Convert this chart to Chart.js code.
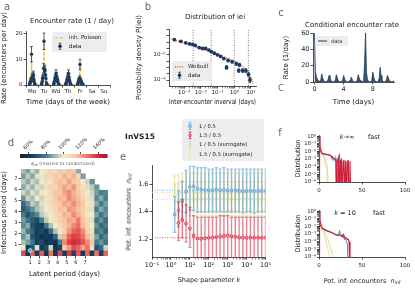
<!DOCTYPE html>
<html>
<head>
<meta charset="utf-8">
<script src="https://cdn.jsdelivr.net/npm/chart.js@4.4.1/dist/chart.umd.min.js"></script>
<style>
html,body{margin:0;padding:0;background:#fff}
body{width:415px;height:295px;position:relative;overflow:hidden;font-family:"DejaVu Sans",sans-serif;color:#222}
canvas{position:absolute}
.t{position:absolute;white-space:nowrap;transform:translate(-50%,-50%);line-height:1}
sub{font-size:70%;vertical-align:-0.3em;line-height:0}
</style>
</head>
<body>
<script>
// ---- a: hourly encounter rate Mo..Fr (7h..18h)
const aDays = ['Mo', 'Tu', 'Wd', 'Th', 'Fr', 'Sa', 'Su'];
const aHours = [7, 8, 9, 10, 11, 12, 13, 14, 15, 16, 17, 18];
const aMo = [0.3, 0.8, 1.5, 2.0, 12.0, 3.0, 2.5, 3.5, 4.0, 2.0, 0.8, 0.2];
const aTu = [0.3, 1.0, 2.5, 3.0, 6.5, 17.0, 5.5, 6.0, 4.0, 2.5, 0.6, 0.2];
const aWd = [0.2, 0.8, 1.5, 2.5, 3.0, 4.5, 3.5, 2.5, 2.0, 1.2, 0.4, 0.1];
const aTh = [0.2, 0.6, 1.2, 2.0, 2.5, 3.5, 4.5, 3.0, 2.0, 1.0, 0.4, 0.1];
const aFr = [0.3, 0.8, 1.5, 2.0, 2.5, 8.0, 2.0, 1.5, 1.0, 0.5, 0.3, 0.1];
const aMoErr = [0.3, 0.6, 0.9, 1.0, 3.0, 1.2, 1.1, 1.3, 1.4, 1.0, 0.6, 0.3];
const aTuErr = [0.3, 0.7, 1.1, 1.2, 1.8, 3.2, 1.6, 1.7, 1.4, 1.1, 0.5, 0.3];
const aWdErr = [0.3, 0.6, 0.9, 1.1, 1.2, 1.4, 1.3, 1.1, 1.0, 0.8, 0.4, 0.2];
const aThErr = [0.3, 0.5, 0.8, 1.0, 1.1, 1.3, 1.4, 1.2, 1.0, 0.7, 0.4, 0.2];
const aFrErr = [0.3, 0.6, 0.9, 1.0, 1.1, 2.0, 1.0, 0.9, 0.7, 0.5, 0.4, 0.2];

// ---- b: inter-encounter interval density (log10 values)
const bLogX = [-3.58, -3.19, -2.9, -2.67, -2.48, -2.33, -2.1, -1.9, -1.71, -1.52, -1.37, -1.19, -1.0, -0.81, -0.62, -0.46, -0.37, -0.13, 0.12, 0.31, 0.27, 0.5, 0.69, 0.85, 0.94];
const bLogY = [-2.6, -2.85, -3.1, -3.25, -3.35, -3.5, -3.85, -4.0, -4.0, -4.25, -4.5, -4.75, -5.0, -5.25, -5.6, -7.0, -5.9, -6.1, -6.4, -6.6, -7.5, -7.5, -7.5, -8.1, -9.0];
const bErr = [0.1, 0.1, 0.1, 0.1, 0.1, 0.1, 0.1, 0.1, 0.1, 0.1, 0.12, 0.12, 0.12, 0.15, 0.15, 0.3, 0.2, 0.2, 0.25, 0.25, 0.3, 0.3, 0.3, 0.35, 0.4];
const bWeibLogX = [-4, -3.5, -3, -2.5, -2, -1.5, -1, -0.5, 0, 0.5, 0.8, 1.0, 1.15];
const bWeibLogY = [-2.25, -2.7, -3.15, -3.6, -4.0, -4.45, -4.95, -5.45, -6.0, -6.8, -7.6, -8.6, -9.6];
const bMarks = [1 / 288, 1 / 24, 1, 7];

// ---- c: conditional encounter rate, every 3 hours from t = 0
const cStep = 0.125;
const cRate = [
  60, 14, 7, 4, 2, 1, 0.8, 3,
  10, 5, 2, 0.8, 0.4, 0.4, 0.8, 3.5,
  8, 6, 2, 0.8, 0.4, 0.3, 0.8, 3,
  9, 5, 2, 0.6, 0.3, 0.3, 0.6, 3,
  8, 4, 1.5, 0.5, 0.3, 0.3, 0.5, 2.5,
  6, 4, 1.5, 0.5, 0.3, 0.3, 0.5, 3,
  9, 5, 2, 0.6, 0.3, 0.4, 2, 24,
  60, 12, 4, 1, 0.4, 0.4, 1, 4,
  12, 6, 2, 0.8, 0.4, 0.3, 1, 5,
  18, 8, 3, 1, 0.4, 0.3, 0.8, 3,
  8, 5, 2, 0.8, 0.4, 0.3, 0.5, 2];

// ---- d: eps_inf (% of randomized), 0.5-day cells, rows from top (7.5-8 d) down
const heatStep = 0.5, heatTop = 8;
const heatGrid = [
  [92, 86, 96, 90, 100, 104, 110, 106, 114, 110, 116, 112, 88, null, null, null, null, null, null],
  [86, 94, 88, 98, 102, 98, 108, 112, 110, 118, 112, 118, 108, 86, null, null, null, null, null],
  [94, 88, 96, 92, 100, 106, 104, 112, 116, 112, 120, 114, 110, 100, 96, 84, null, null, null],
  [88, 96, 90, 98, 96, 104, 110, 108, 116, 120, 116, 122, 112, 104, 98, 94, 84, null, null],
  [96, 90, 98, 94, 102, 100, 108, 114, 112, 120, 124, 118, 114, 106, 100, 96, 86, 80, 82],
  [84, 96, 92, 100, 96, 104, 106, 112, 118, 116, 124, 120, 116, 108, 104, 98, 82, 88, 80],
  [76, 84, 94, 90, 98, 102, 106, 110, 114, 120, 118, 124, 118, 112, 100, 104, 88, 80, 86],
  [72, 78, 84, 92, 96, 100, 104, 108, 116, 114, 122, 120, 116, 110, 106, 98, 80, 88, 82],
  [80, 70, 76, 82, 94, 98, 102, 106, 110, 118, 116, 124, 118, 112, 102, 100, 86, 78, 84],
  [86, 78, 72, 68, 80, 94, 100, 104, 110, 114, 120, 118, 126, 114, 106, 98, 78, 84, 76],
  [82, 88, 70, 66, 62, 78, 92, 100, 106, 112, 118, 124, 128, 116, 108, 100, 84, 76, 80],
  [90, 80, 74, 64, 68, 62, 76, 92, 102, 110, 122, 130, 132, 124, 110, 104, 78, 82, 74],
  [84, 92, 70, 66, 60, 64, 62, 74, 96, 118, 130, 136, 134, 128, 116, 108, 86, 76, 82],
  [92, 86, 78, 64, 68, 60, 64, 60, 80, 124, 136, 140, 138, 132, 124, 112, 80, 84, 78],
  [100, 64, 70, 98, 62, 68, 96, 60, 66, 112, 122, 134, 130, 120, 128, 104, 70, 76, 96],
  [134, 62, 130, 64, 132, 60, 128, 62, 134, 64, 136, 66, 132, 62, 130, 64, 128, 66, 130]];
const heatMarker = {x: 1, y: 0.5};
const cbarTicks = [60, 80, 100, 120, 140];

// ---- e: n_inf vs shape parameter k
const eK = [1.58, 2.51, 3.98, 6.31, 10, 15.8, 25.1, 39.8, 63.1, 100, 158, 251, 398, 631, 1000, 1585, 2512, 3981, 6310, 10000, 15849, 25119, 39811, 63096, 100000];
const eBlue = [1.38, 1.41, 1.475, 1.545, 1.58, 1.585, 1.568, 1.562, 1.558, 1.556, 1.556, 1.56, 1.556, 1.558, 1.555, 1.556, 1.556, 1.552, 1.55, 1.551, 1.552, 1.55, 1.551, 1.552, 1.551];
const eBlueLo = [1.25, 1.29, 1.33, 1.39, 1.41, 1.41, 1.4, 1.4, 1.4, 1.4, 1.4, 1.4, 1.4, 1.4, 1.4, 1.4, 1.4, 1.4, 1.39, 1.4, 1.4, 1.39, 1.4, 1.4, 1.4];
const eBlueHi = [1.51, 1.55, 1.62, 1.7, 1.73, 1.73, 1.72, 1.72, 1.72, 1.71, 1.71, 1.72, 1.71, 1.72, 1.71, 1.71, 1.71, 1.71, 1.71, 1.71, 1.71, 1.71, 1.71, 1.71, 1.71];
const eRed = [null, 1.318, 1.34, 1.314, 1.278, 1.227, 1.205, 1.203, 1.207, 1.21, 1.212, 1.215, 1.22, 1.225, 1.227, 1.222, 1.218, 1.213, 1.212, 1.21, 1.212, 1.21, 1.211, 1.21, 1.21];
const eRedLo = [null, 1.19, 1.21, 1.18, 1.14, 1.02, 1.0, 1.0, 1.0, 1.0, 1.0, 1.0, 1.0, 1.0, 1.0, 1.0, 1.0, 1.0, 1.0, 1.0, 1.0, 1.0, 1.0, 1.0, 1.0];
const eRedHi = [null, 1.47, 1.49, 1.45, 1.43, 1.37, 1.36, 1.36, 1.36, 1.36, 1.36, 1.36, 1.37, 1.37, 1.37, 1.36, 1.36, 1.36, 1.36, 1.36, 1.36, 1.36, 1.36, 1.36, 1.36];
const eSur1 = [1.52, 1.53, 1.54, 1.54, 1.545, 1.54, 1.54, 1.54, 1.538, 1.54, 1.54, 1.542, 1.54, 1.54, 1.538, 1.54, 1.54, 1.54, 1.54, 1.54, 1.54, 1.54, 1.54, 1.54, 1.54];
const eSur1Lo = [1.38, 1.39, 1.4, 1.4, 1.41, 1.4, 1.4, 1.4, 1.4, 1.4, 1.4, 1.4, 1.4, 1.4, 1.4, 1.4, 1.4, 1.4, 1.4, 1.4, 1.4, 1.4, 1.4, 1.4, 1.4];
const eSur1Hi = [1.66, 1.67, 1.68, 1.68, 1.68, 1.68, 1.68, 1.68, 1.68, 1.68, 1.68, 1.68, 1.68, 1.68, 1.68, 1.68, 1.68, 1.68, 1.68, 1.68, 1.68, 1.68, 1.68, 1.68, 1.68];
const eSur2 = [1.47, 1.48, 1.49, 1.49, 1.49, 1.49, 1.49, 1.492, 1.49, 1.49, 1.49, 1.49, 1.49, 1.49, 1.49, 1.49, 1.49, 1.49, 1.49, 1.49, 1.49, 1.49, 1.49, 1.49, 1.49];
const eSur2Lo = [1.35, 1.36, 1.36, 1.37, 1.37, 1.37, 1.37, 1.37, 1.37, 1.37, 1.37, 1.37, 1.37, 1.37, 1.37, 1.37, 1.37, 1.37, 1.37, 1.37, 1.37, 1.37, 1.37, 1.37, 1.37];
const eSur2Hi = [1.6, 1.61, 1.62, 1.62, 1.62, 1.62, 1.62, 1.62, 1.62, 1.62, 1.62, 1.62, 1.62, 1.62, 1.62, 1.62, 1.62, 1.62, 1.62, 1.62, 1.62, 1.62, 1.62, 1.62, 1.62];
const eBlueRef = 1.556, eRedRef = 1.21, eSur1Ref = 1.54, eSur2Ref = 1.49;

// ---- f: distributions of n_inf (index = n_inf), 1e-9 = empty bin
const fTopSur1 = [1, 0.15, 0.04, 0.015, 0.008, 0.004, 0.002, 0.001, 0.0005, 0.0002, 0.00005, 1e-9];
const fTopSur2 = [1, 0.12, 0.03, 0.01, 0.005, 0.002, 0.0008, 0.0003, 0.0001, 0.00002, 1e-9];
const fTopBlue = [1, 0.06, 0.012, 0.006, 0.005, 0.005, 0.005, 0.0045, 0.0045, 0.004, 0.004, 0.004, 0.0035, 0.003, 0.0025, 0.0012, 0.002, 0.001, 0.0007, 0.0015, 1e-9, 0.001, 0.0005, 0.002, 0.003, 1e-9, 0.0006, 1e-9];
const fTopRed = [1, 0.05, 0.012, 0.006, 0.005, 0.005, 0.0045, 0.0045, 0.004, 0.004, 0.0038, 0.0035, 0.0032, 0.003, 0.0025, 0.002, 0.0015, 0.0012, 0.001, 0.001, 0.0008, 1e-9, 0.0007, 0.002, 1e-9, 0.0006, 0.0009, 1e-9, 0.0005, 0.0008, 1e-9, 0.0006, 1e-9, 0.0005, 0.0006, 1e-9, 0.0005, 1e-9];
const fBotSur1 = [1, 0.15, 0.04, 0.02, 0.01, 0.006, 0.003, 0.0015, 0.0008, 0.0004, 0.0002, 0.0001, 0.00005, 0.00002, 0.000008, 0.000003, 0.000001, 3e-7];
const fBotSur2 = [1, 0.12, 0.03, 0.012, 0.005, 0.002, 0.0008, 0.0003, 0.0001, 0.00004, 0.000015, 0.000005, 0.0000015, 4e-7];
const fBotBlue = [1, 0.06, 0.015, 0.008, 0.006, 0.005, 0.0045, 0.004, 0.0035, 0.003, 0.0028, 0.0025, 0.0022, 0.002, 0.0018, 0.0016, 0.0014, 0.0012, 0.001, 0.0009, 0.0008, 0.0007, 0.0008, 0.0012, 0.0025, 0.0009, 0.0006, 0.0004, 0.0005, 0.0003, 0.0002, 0.0002, 0.0001, 0.00005, 1e-9];
const fBotRed = [1, 0.06, 0.014, 0.007, 0.005, 0.0045, 0.004, 0.0035, 0.003, 0.0027, 0.0024, 0.0022, 0.002, 0.0018, 0.0016, 0.0015, 0.0013, 0.0012, 0.001, 0.0009, 0.0008, 0.0008, 0.0007, 0.0007, 0.0008, 0.0006, 0.0006, 0.0005, 0.0009, 0.0005, 0.0004, 0.0003, 0.0003, 0.0002, 0.0002, 0.0001, 1e-9];

const NAVY = '#1f3b5c', GOLD = '#f3c04a', WEIB = '#ee5a45';
const BLUE = '#5a9fd4', RED = '#d3203b', YEL = '#ddd58a';

Chart.defaults.font.family = "'DejaVu Sans', sans-serif";
Chart.defaults.font.size = 6;
Chart.defaults.color = '#222';
Chart.defaults.animation = false;
Chart.defaults.responsive = false;
Chart.defaults.maintainAspectRatio = false;
Chart.defaults.events = [];
Chart.defaults.plugins.legend.display = false;
Chart.defaults.plugins.tooltip.enabled = false;

const SUP = {'-': '⁻', '0': '⁰', '1': '¹', '2': '²', '3': '³', '4': '⁴', '5': '⁵', '6': '⁶', '7': '⁷', '8': '⁸', '9': '⁹'};
const pow10 = e => '10' + String(e).split('').map(ch => SUP[ch]).join('');
function logTicks(lo, hi, minors) {
  const out = [];
  for (let e = Math.floor(Math.log10(lo)); e <= Math.ceil(Math.log10(hi)); e++) {
    for (let m = 1; m <= 9; m++) {
      if (m > 1 && !minors) break;
      const v = m * Math.pow(10, e);
      if (v >= lo * 0.999 && v <= hi * 1.001) out.push({value: v, major: m === 1});
    }
  }
  return out;
}
const logLabel = shown => v => {
  const e = Math.round(Math.log10(v));
  return Math.abs(v / Math.pow(10, e) - 1) < 1e-6 && shown.includes(e) ? pow10(e) : '';
};

// navy -> teal -> cream -> salmon -> red
const cmapStops = [[0, [12, 30, 56]], [0.15, [22, 62, 92]], [0.3, [70, 125, 140]], [0.5, [240, 234, 204]],
  [0.65, [248, 196, 158]], [0.78, [236, 112, 100]], [0.92, [205, 28, 52]], [1, [190, 10, 40]]];
function cmap(v) {
  const t = Math.min(1, Math.max(0, (v - 50) / 100));
  let i = 1;
  while (i < cmapStops.length - 1 && t > cmapStops[i][0]) i++;
  const [t0, c0] = cmapStops[i - 1], [t1, c1] = cmapStops[i];
  const f = (t - t0) / (t1 - t0);
  return 'rgb(' + c0.map((c, k) => Math.round(c + (c1[k] - c) * f)).join(',') + ')';
}

function marker(c, kind, x, y, r, fill, stroke) {
  c.beginPath();
  if (kind === 'rect') c.rect(x - r, y - r, 2 * r, 2 * r);
  else if (kind === 'diamond') { c.moveTo(x, y - r * 1.3); c.lineTo(x + r, y); c.lineTo(x, y + r * 1.3); c.lineTo(x - r, y); c.closePath(); }
  else c.arc(x, y, r, 0, Math.PI * 2);
  c.fillStyle = fill; c.fill();
  c.lineWidth = 0.6; c.strokeStyle = stroke; c.stroke();
}

// error bars drawn from dataset.err through the chart scales
const errPlugin = {
  id: 'errbars',
  beforeDatasetDraw(chart, args) {
    const ds = chart.data.datasets[args.index];
    if (!ds.err) return;
    const meta = args.meta, xs = chart.scales[meta.xAxisID], ys = chart.scales[meta.yAxisID];
    const ca = chart.chartArea, c = chart.ctx, e = ds.err;
    c.save();
    c.beginPath(); c.rect(ca.left, ca.top, ca.width, ca.height); c.clip();
    c.strokeStyle = e.color; c.lineWidth = e.width;
    ds.data.forEach((p, i) => {
      if (p.y == null || e.lo[i] == null) return;
      const x = xs.getPixelForValue(p.x), y0 = ys.getPixelForValue(e.lo[i]), y1 = ys.getPixelForValue(e.hi[i]);
      c.beginPath(); c.moveTo(x, y0); c.lineTo(x, y1);
      if (e.cap) { c.moveTo(x - e.cap, y0); c.lineTo(x + e.cap, y0); c.moveTo(x - e.cap, y1); c.lineTo(x + e.cap, y1); }
      c.stroke();
    });
    c.restore();
  }
};

const heatPlugin = {
  id: 'heat',
  beforeDatasetsDraw(chart, args, o) {
    if (!o || !o.on) return;
    const {ctx, chartArea: ca, scales: {x, y}} = chart;
    ctx.save();
    ctx.beginPath(); ctx.rect(ca.left, ca.top, ca.width, ca.height); ctx.clip();
    heatGrid.forEach((row, r) => row.forEach((v, col) => {
      if (v == null) return;
      const x0 = x.getPixelForValue(col * heatStep), x1 = x.getPixelForValue((col + 1) * heatStep);
      const yT = y.getPixelForValue(heatTop - r * heatStep), yB = y.getPixelForValue(heatTop - (r + 1) * heatStep);
      ctx.fillStyle = cmap(v);
      ctx.fillRect(x0, yT, x1 - x0 + 0.6, yB - yT + 0.6);
    }));
    ctx.restore();
  }
};

const cbarPlugin = {
  id: 'cbar',
  beforeDatasetsDraw(chart, args, o) {
    if (!o || !o.on) return;
    const {ctx, chartArea: ca, scales: {x}} = chart;
    for (let v = 50; v < 150; v += 0.5) {
      const x0 = x.getPixelForValue(v), x1 = x.getPixelForValue(v + 0.5);
      ctx.fillStyle = cmap(v + 0.25);
      ctx.fillRect(x0, ca.top, x1 - x0 + 0.5, ca.height);
    }
  }
};

const boxLegend = {
  id: 'boxLegend',
  afterDraw(chart, args, o) {
    if (!o || !o.items) return;
    const c = chart.ctx, n = o.items.length, rh = o.rowH;
    c.save();
    c.fillStyle = 'rgba(236,236,236,0.92)';
    c.beginPath(); c.roundRect(o.x, o.y, o.w, o.h, 1.5); c.fill();
    const y0 = o.y + (o.h - n * rh) / 2 + rh / 2;
    for (let i = 0; i < n; i++) {
      const it = o.items[i], y = y0 + i * rh, gx = o.x + o.gx;
      c.strokeStyle = it.color;
      if (it.kind === 'line') {
        c.lineWidth = it.lw || 1; c.setLineDash(it.dash || []);
        c.beginPath(); c.moveTo(gx, y); c.lineTo(gx + o.gl, y); c.stroke();
        c.setLineDash([]);
      } else {
        const cx = gx + o.gl / 2, h = rh * 0.36;
        c.lineWidth = 0.8;
        c.beginPath(); c.moveTo(cx, y - h); c.lineTo(cx, y + h);
        c.moveTo(cx - 1.3, y - h); c.lineTo(cx + 1.3, y - h); c.moveTo(cx - 1.3, y + h); c.lineTo(cx + 1.3, y + h);
        c.stroke();
        marker(c, it.marker, cx, y, it.r || 1.5, it.fill || it.color, it.color);
      }
      c.fillStyle = '#222'; c.font = o.fs + "px 'DejaVu Sans'"; c.textBaseline = 'middle';
      c.fillText(it.text, gx + o.gl + o.tg, y + 0.3);
    }
    c.restore();
  }
};
Chart.register(errPlugin, heatPlugin, cbarPlugin, boxLegend);

function ax(p) {
  return {
    type: p.type || 'linear', position: p.pos, min: p.min, max: p.max,
    afterBuildTicks: s => { s.ticks = p.ticks.map(t => typeof t === 'number' ? {value: t, major: true} : t); },
    grid: {drawOnChartArea: false, drawTicks: true, tickLength: p.tl || 2.5, color: '#222', lineWidth: 0.8,
      tickWidth: c => (c.tick && c.tick.major === false ? 0.5 : 0.8)},
    border: {display: p.border !== false, color: '#222', width: 0.8},
    ticks: {font: {size: p.fs || 6}, color: '#222', padding: p.pad ?? 1, autoSkip: false,
      maxRotation: p.rot || 0, minRotation: p.rot || 0, labelOffset: p.lo || 0,
      callback: p.label || (v => v)},
    title: p.title ? {display: true, text: p.title, font: {size: p.ts || 7}, color: '#111', padding: 0} : {display: false}
  };
}

function mk(box, area, cfg) {
  const cv = document.createElement('canvas');
  cv.width = box.w; cv.height = box.h;
  cv.style.left = box.l + 'px'; cv.style.top = box.t + 'px';
  document.body.appendChild(cv);
  const sc = cfg.options.scales;
  const xTop = sc.x.position === 'top';
  const yOn = sc.y.display !== false;
  cfg.options.layout = {padding: {
    left: yOn ? 0 : area.l - box.l,
    top: xTop ? 0 : area.t - box.t,
    right: box.l + box.w - area.r,
    bottom: xTop ? box.t + box.h - area.b : 0}};
  sc.x.afterFit = s => { s.height = xTop ? area.t - box.t : box.t + box.h - area.b; };
  if (yOn) sc.y.afterFit = s => { s.width = area.l - box.l; };
  cfg.options.devicePixelRatio = 1;
  return new Chart(cv, cfg);
}

function txt(x, y, html, size, extra) {
  const d = document.createElement('div');
  d.className = 't';
  d.style.left = x + 'px'; d.style.top = y + 'px'; d.style.fontSize = size + 'px';
  if (extra) d.style.cssText += extra;
  d.innerHTML = html;
  document.body.appendChild(d);
}

// ---------- a
const aDayRates = [aMo, aTu, aWd, aTh, aFr];
const aDayErrs = [aMoErr, aTuErr, aWdErr, aThErr, aFrErr];
const aPts = [], aLo = [], aHi = [];
aDayRates.forEach((arr, d) => arr.forEach((v, i) => {
  aPts.push({x: d + aHours[i] / 24, y: v});
  aLo.push(v - aDayErrs[d][i]); aHi.push(v + aDayErrs[d][i]);
}));
mk({l: 0, t: 4, w: 122, h: 102}, {l: 26, t: 31, r: 110, b: 85}, {
  type: 'scatter',
  data: {datasets: [
    {data: aPts, pointRadius: 1.7, backgroundColor: NAVY, borderWidth: 0, order: 1,
      err: {lo: aLo, hi: aHi, color: NAVY, width: 0.8, cap: 1.4}},
    {data: aPts, showLine: true, borderColor: GOLD, borderDash: [3, 2], borderWidth: 1.4, pointRadius: 0, order: 2}
  ]},
  options: {
    scales: {
      x: ax({pos: 'bottom', min: 0, max: 7, ticks: [0, 1, 2, 3, 4, 5, 6, 7], label: (v, i) => aDays[i] || '', lo: 6, fs: 5.5, title: 'Time (days of the week)', ts: 7}),
      y: ax({pos: 'left', min: 0, max: 21, ticks: [0, 10, 20], fs: 5.5, title: 'Rate (encounters per day)', ts: 7})
    },
    plugins: {boxLegend: {x: 52, y: 28, w: 55, h: 20, rowH: 8.5, gx: 3, gl: 10, tg: 4, fs: 5.5, items: [
      {kind: 'line', color: GOLD, dash: [3, 2], lw: 1.4, text: 'inh. Poisson'},
      {kind: 'err', color: NAVY, marker: 'circle', r: 1.5, text: 'data'}]}}
  }
});

// ---------- b
const bPts = bLogX.map((lx, i) => ({x: Math.pow(10, lx), y: Math.pow(10, bLogY[i])}));
const bLo = bLogY.map((ly, i) => Math.pow(10, ly - bErr[i]));
const bHi = bLogY.map((ly, i) => Math.pow(10, ly + bErr[i]));
const bWeib = bWeibLogX.map((lx, i) => ({x: Math.pow(10, lx), y: Math.pow(10, bWeibLogY[i])}));
const bXmin = Math.pow(10, -3.9), bXmax = Math.pow(10, 1.3), bYmin = Math.pow(10, -9.95), bYmax = Math.pow(10, -0.9);
mk({l: 135, t: 4, w: 130, h: 102}, {l: 169, t: 29, r: 256, b: 86}, {
  type: 'scatter',
  data: {datasets: [
    ...bMarks.map(m => ({data: [{x: m, y: bYmin}, {x: m, y: bYmax}], showLine: true, borderColor: '#555', borderDash: [1, 1.5], borderWidth: 0.8, pointRadius: 0, order: 5})),
    {data: bWeib, showLine: true, borderColor: WEIB, borderDash: [1, 1.3], borderWidth: 1.3, pointRadius: 0, order: 3},
    {data: bPts, pointRadius: 1.9, backgroundColor: NAVY, borderWidth: 0, order: 1,
      err: {lo: bLo, hi: bHi, color: NAVY, width: 0.8, cap: 1.2}}
  ]},
  options: {
    scales: {
      x: ax({type: 'logarithmic', pos: 'bottom', min: bXmin, max: bXmax, ticks: logTicks(bXmin, bXmax, true), label: logLabel([-3, -2, -1, 0, 1]), fs: 5.5, title: 'Inter-encounter inverval (days)', ts: 7}),
      y: ax({type: 'logarithmic', pos: 'left', min: bYmin, max: bYmax, ticks: logTicks(bYmin, bYmax, false), label: logLabel([-5, -9]), fs: 5.5, title: 'Probability density P(iei)', ts: 7})
    },
    plugins: {boxLegend: {x: 37, y: 57, w: 40, h: 20, rowH: 8.5, gx: 3, gl: 9, tg: 4, fs: 5.5, items: [
      {kind: 'line', color: WEIB, dash: [1, 1.3], lw: 1.3, text: 'Weibull'},
      {kind: 'err', color: NAVY, marker: 'circle', r: 1.5, text: 'data'}]}}
  }
});

// ---------- c
const cPts = cRate.map((v, i) => ({x: i * cStep, y: v}));
mk({l: 282, t: 4, w: 133, h: 102}, {l: 313, t: 33, r: 394, b: 82}, {
  type: 'scatter',
  data: {datasets: [
    {data: cPts, showLine: true, borderColor: NAVY, borderWidth: 0.8, backgroundColor: 'rgba(31,59,92,0.88)', fill: 'origin', pointRadius: 0}
  ]},
  options: {
    scales: {
      x: ax({pos: 'bottom', min: -0.2, max: 10.9, ticks: [0, 4, 8], fs: 6.5, title: 'Time (days)', ts: 7}),
      y: ax({pos: 'left', min: 0, max: 60, ticks: [0, 20, 40, 60], fs: 6.5, title: 'Rate (1/day)', ts: 7})
    },
    plugins: {boxLegend: {x: 33, y: 32, w: 33, h: 10, rowH: 9, gx: 3, gl: 9, tg: 4, fs: 5, items: [
      {kind: 'line', color: NAVY, lw: 1, text: 'data'}]}}
  }
});

// ---------- d colorbar + heatmap
mk({l: 12, t: 128, w: 104, h: 32}, {l: 20, t: 154, r: 107, b: 158}, {
  type: 'scatter',
  data: {datasets: []},
  options: {
    scales: {
      x: ax({pos: 'top', min: 50, max: 150, ticks: cbarTicks, label: v => v + '%', rot: 45, fs: 5, border: false, tl: 2}),
      y: {display: false, min: 0, max: 1}
    },
    plugins: {cbar: {on: true}}
  }
});
mk({l: 0, t: 160, w: 116, h: 118}, {l: 21, t: 169, r: 108, b: 256}, {
  type: 'scatter',
  data: {datasets: [
    {data: [heatMarker], pointRadius: 2, backgroundColor: '#55aee8', borderColor: '#fff', borderWidth: 0.6}
  ]},
  options: {
    scales: {
      x: ax({pos: 'bottom', min: 0, max: 9.5, ticks: [1, 2, 3, 4, 5, 6, 7], fs: 5, border: false, title: 'Latent period (days)', ts: 7}),
      y: ax({pos: 'left', min: 0, max: 7.9, ticks: [1, 2, 3, 4, 5, 6, 7], fs: 5, border: false, title: 'Infectious period (days)', ts: 7})
    },
    plugins: {heat: {on: true}}
  }
});

// ---------- e
const ePts = arr => eK.map((k, i) => ({x: k, y: arr[i]}));
const eRef = (v, col) => ({data: [{x: 0.1, y: v}, {x: 1e5, y: v}], showLine: true, borderColor: col, borderDash: [1, 1.5], borderWidth: 1, pointRadius: 0, order: 9});
mk({l: 123, t: 116, w: 150, h: 168}, {l: 152, t: 165, r: 267, b: 257}, {
  type: 'scatter',
  data: {datasets: [
    eRef(eSur1Ref, 'rgba(221,213,138,0.9)'), eRef(eSur2Ref, 'rgba(221,213,138,0.9)'),
    eRef(eBlueRef, 'rgba(90,159,212,0.9)'), eRef(eRedRef, 'rgba(211,32,59,0.8)'),
    {data: ePts(eSur2), pointStyle: 'rectRot', pointRadius: 1.8, backgroundColor: '#f4f1cf', borderColor: YEL, borderWidth: 0.6, order: 7,
      err: {lo: eSur2Lo, hi: eSur2Hi, color: 'rgba(221,213,138,0.55)', width: 1.4, cap: 1.6}},
    {data: ePts(eSur1), pointStyle: 'rectRot', pointRadius: 1.8, backgroundColor: '#f2eec4', borderColor: YEL, borderWidth: 0.6, order: 6,
      err: {lo: eSur1Lo, hi: eSur1Hi, color: 'rgba(221,213,138,0.55)', width: 1.4, cap: 1.6}},
    {data: ePts(eBlue), pointStyle: 'rect', pointRadius: 1.7, backgroundColor: '#a8cbea', borderColor: BLUE, borderWidth: 0.7, order: 5,
      err: {lo: eBlueLo, hi: eBlueHi, color: 'rgba(90,159,212,0.6)', width: 1.4, cap: 1.6}},
    {data: ePts(eRed), pointStyle: 'circle', pointRadius: 1.5, backgroundColor: '#ef8a98', borderColor: RED, borderWidth: 0.7, order: 4,
      err: {lo: eRedLo, hi: eRedHi, color: 'rgba(211,32,59,0.55)', width: 1.4, cap: 1.6}}
  ]},
  options: {
    scales: {
      x: ax({type: 'logarithmic', pos: 'bottom', min: 0.1, max: 1e5, ticks: logTicks(0.1, 1e5, true), label: logLabel([-1, 0, 1, 2, 3, 4, 5]), fs: 6.5, pad: 2}),
      y: ax({pos: 'left', min: 1.07, max: 1.74, ticks: [1.2, 1.4, 1.6], fs: 6.5})
    },
    plugins: {boxLegend: {x: 59, y: 3, w: 82, h: 42, rowH: 9.3, gx: 4, gl: 8, tg: 5, fs: 5.3, items: [
      {kind: 'err', color: BLUE, marker: 'rect', fill: '#a8cbea', r: 1.3, text: '1 / 0.5'},
      {kind: 'err', color: RED, marker: 'circle', fill: '#ef8a98', r: 1.3, text: '1.5 / 0.5'},
      {kind: 'err', color: YEL, marker: 'diamond', fill: '#f2eec4', r: 1.3, text: '1 / 0.5 (surrogate)'},
      {kind: 'err', color: '#e6e0a6', marker: 'diamond', fill: '#f6f3d6', r: 1.3, text: '1.5 / 0.5 (surrogate)'}]}}
  }
});

// ---------- f
const fPts = arr => arr.map((v, n) => ({x: n, y: v}));
const fLine = (arr, col, w, order) => ({data: fPts(arr), showLine: true, borderColor: col, borderWidth: w, pointRadius: 0, order});
const fMean = (v, col) => ({data: [{x: v, y: 0.2}, {x: v, y: 1e-9}], showLine: true, borderColor: col, borderDash: [1, 1.5], borderWidth: 0.9, pointRadius: 0, order: 0});
function fChart(box, area, sur1, sur2, blue, red) {
  return mk(box, area, {
    type: 'scatter',
    data: {datasets: [
      fLine(sur1, '#e3dea0', 1.1, 4), fLine(sur2, '#ebe7b8', 1.1, 5),
      fLine(blue, BLUE, 1.1, 3), fLine(red, '#d01d3a', 1.2, 2),
      fMean(eRedRef, 'rgba(230,110,120,0.9)')
    ]},
    options: {
      scales: {
        x: ax({pos: 'bottom', min: 0, max: 100, ticks: [0, 50, 100], fs: 5.5, pad: 3}),
        y: ax({type: 'logarithmic', pos: 'left', min: 1e-6, max: 1.4, ticks: logTicks(1e-6, 1.4, true), label: logLabel([0, -1, -2, -3, -4, -5, -6]), fs: 5.3, title: 'Distribution', ts: 6.5, tl: 2})
      }
    }
  });
}
fChart({l: 294, t: 127, w: 121, h: 71}, {l: 319, t: 135, r: 405, b: 182}, fTopSur1, fTopSur2, fTopBlue, fTopRed);
fChart({l: 294, t: 202, w: 121, h: 84}, {l: 319, t: 210, r: 405, b: 257}, fBotSur1, fBotSur2, fBotBlue, fBotRed);

// ---------- text
const gray = 'color:#666';
txt(7, 7, 'a', 10, gray);
txt(148, 7, 'b', 10, gray);
txt(281, 13, 'c', 10, gray);
txt(281, 88, 'C', 8.5, gray);
txt(11, 143, 'd', 10, gray);
txt(123, 157, 'e', 10, gray);
txt(280, 133, 'f', 10, gray);
txt(72, 21, 'Encounter rate (1 / day)', 7);
txt(215, 17, 'Distribution of iei', 7);
txt(352, 25, 'Conditional encounter rate', 7);
txt(63, 164, '<i>ε</i><sub>inf</sub> <span style="color:#666">(relative to randomized)</span>', 4.6);
txt(140, 137, '<b>InVS15</b>', 7.5);
txt(209, 280, 'Shape parameter <i>k</i>', 6.5);
txt(129, 212, 'Pot. inf. encounters &nbsp;<i>n</i><sub>inf</sub>', 6.5, 'transform:translate(-50%,-50%) rotate(-90deg)');
txt(362, 281, 'Pot. inf. encounters &nbsp;<i>n</i><sub>inf</sub>', 6.5);
txt(347, 137, '<i>k</i>→∞', 6.5);
txt(374, 137, 'fast', 6.5);
txt(345, 213, '<i>k</i> = 10', 6.5);
txt(379, 213, 'fast', 6.5);
</script>
</body>
</html>
